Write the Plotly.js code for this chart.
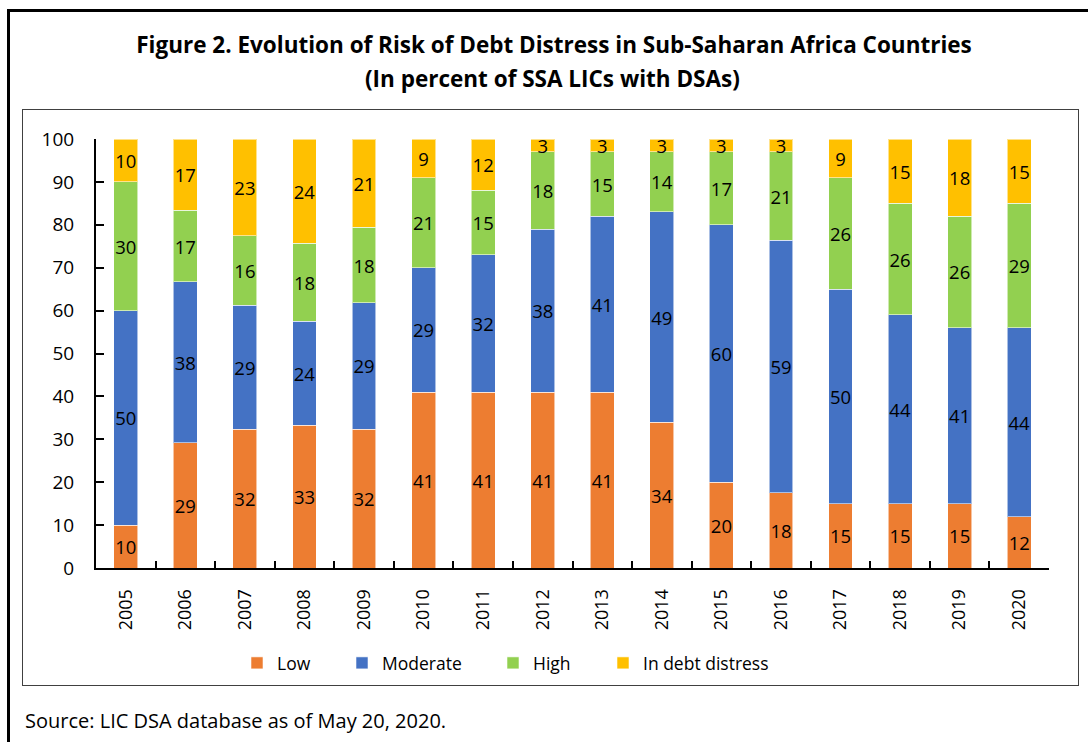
<!DOCTYPE html>
<html>
<head>
<meta charset="utf-8">
<script src="https://cdn.plot.ly/plotly-3.0.1.min.js"></script>
<style>
  html, body { margin: 0; padding: 0; background: #fff; }
  #wrap { position: relative; width: 1088px; height: 742px; overflow: hidden; }
  #outer { position: absolute; left: 7px; top: 9px; width: 1200px; height: 900px;
           border-left: 3px solid #000; border-top: 3px solid #000; }
  #inner { position: absolute; left: 22px; top: 109px; width: 1055px; height: 575px;
           border: 1.5px solid #404040; }
  #chart { position: absolute; left: 0; top: 0; width: 1088px; height: 742px; }
</style>
</head>
<body>
<div id="wrap">
  <div id="outer"></div>
  <div id="inner"></div>
  <div id="chart"></div>
</div>
<script>
const years = ['2005','2006','2007','2008','2009','2010','2011','2012','2013','2014','2015','2016','2017','2018','2019','2020'];
const low      = [10, 29.2, 32.3, 33.3, 32.4, 41, 41, 41, 41, 34, 20, 17.6, 15, 15, 15, 12];
const moderate = [50, 37.5, 29.0, 24.2, 29.4, 29, 32, 38, 41, 49, 60, 58.8, 50, 44, 41, 44];
const high     = [30, 16.7, 16.1, 18.2, 17.6, 21, 15, 18, 15, 14, 17, 20.6, 26, 26, 26, 29];
const distress = [10, 16.6, 22.6, 24.3, 20.6,  9, 12,  3,  3,  3,  3,  3.0,  9, 15, 18, 15];
const seriesNames = ['Low', 'Moderate', 'High', 'In debt distress'];
const titleLine1 = 'Figure 2. Evolution of Risk of Debt Distress in Sub-Saharan Africa Countries';
const titleLine2 = '(In percent of SSA LICs with DSAs)';
const sourceText = 'Source: LIC DSA database as of May 20, 2020.';

const FONT = '"Open Sans", "Noto Sans", sans-serif';
const colors = ['#ED7D31', '#4472C4', '#92D050', '#FFC000'];
const data = [low, moderate, high, distress];
const legendIds = ['legend', 'legend2', 'legend3', 'legend4'];

const traces = data.map((vals, i) => ({
  type: 'bar',
  name: seriesNames[i],
  x: years,
  y: vals,
  text: vals.map(v => String(Math.round(v))),
  textposition: 'inside',
  insidetextanchor: 'middle',
  textangle: 0,
  textfont: { family: FONT, size: 18.5, color: '#000' },
  marker: { color: colors[i], line: { color: 'rgba(255,255,255,0.55)', width: 1 } },
  legend: legendIds[i],
  hoverinfo: 'x+y+name'
}));

// plot area pixel geometry: x 96..1049, y 139..568
const W = 1088, H = 742, L = 96, R = 39, T = 139, B = 174;
const pw = W - L - R, ph = H - T - B;
const px = v => (v - L) / pw;
const py = v => (H - B - v) / ph;

const legendLefts = [237, 342, 493, 603];
const legendCommon = {
  orientation: 'h', xanchor: 'left', yanchor: 'middle',
  font: { family: FONT, size: 17.5, color: '#000' },
  bgcolor: 'rgba(0,0,0,0)', borderwidth: 0
};

const layout = {
  width: W, height: H,
  margin: { l: L, r: R, t: T, b: B, pad: 0, autoexpand: false },
  paper_bgcolor: 'rgba(0,0,0,0)',
  plot_bgcolor: 'rgba(0,0,0,0)',
  font: { family: FONT, size: 18, color: '#000' },
  barmode: 'stack',
  bargap: 0.6,
  uniformtext: { minsize: 18.5, mode: 'show' },
  title: {
    text: titleLine1,
    font: { family: FONT, size: 22.5, color: '#000', weight: 'bold' },
    x: 554 / W, xref: 'container', xanchor: 'center',
    y: 1 - 45 / H, yref: 'container', yanchor: 'middle'
  },
  xaxis: {
    type: 'category',
    showline: true, linecolor: '#000', linewidth: 2,
    ticks: 'inside', tickson: 'boundaries', ticklen: 7, tickwidth: 2, tickcolor: '#000',
    tickangle: -90, ticklabelstandoff: 12,
    tickfont: { family: FONT, size: 18, color: '#000' },
    showgrid: false, zeroline: false, fixedrange: true
  },
  yaxis: {
    range: [0, 100], dtick: 10, tick0: 0,
    showline: true, linecolor: '#000', linewidth: 2,
    ticks: 'inside', ticklen: 8, tickwidth: 2, tickcolor: '#000',
    ticklabelstandoff: 16,
    tickfont: { family: FONT, size: 19, color: '#000' },
    showgrid: false, zeroline: false, fixedrange: true
  },
  annotations: [
    { text: titleLine2, xref: 'paper', yref: 'paper', x: px(552), y: py(78),
      xanchor: 'center', yanchor: 'middle', showarrow: false,
      font: { family: FONT, size: 22.5, color: '#000', weight: 'bold' } },
    { text: sourceText, xref: 'paper', yref: 'paper', x: px(23), y: py(720),
      xanchor: 'left', yanchor: 'middle', showarrow: false,
      font: { family: FONT, size: 20, color: '#000' } }
  ],
  showlegend: true
};
legendIds.forEach((id, i) => {
  layout[id] = Object.assign({}, legendCommon, { x: px(legendLefts[i]), y: py(663) });
});

Plotly.newPlot('chart', traces, layout, { displayModeBar: false, staticPlot: true });
</script>
</body>
</html>
